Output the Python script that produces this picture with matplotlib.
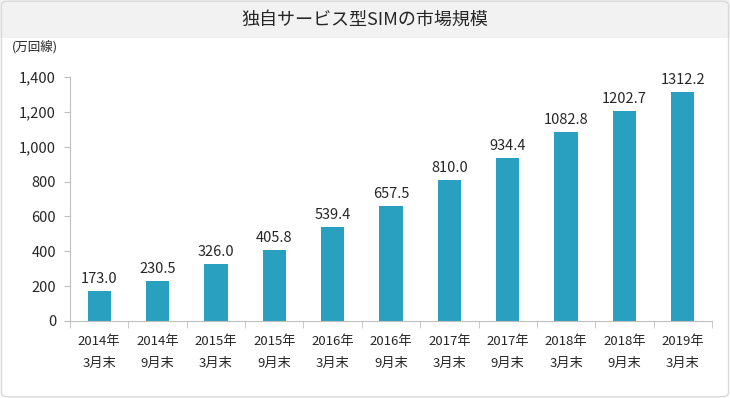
import matplotlib
matplotlib.use('Agg')
import matplotlib.pyplot as plt
import matplotlib.patches as patches
import numpy as np

plt.rcParams['font.family'] = ['Noto Sans CJK JP', 'DejaVu Sans']

title = '独自サービス型SIMの市場規模'
unit_label = '(万回線)'
periods = ['2014年\n3月末', '2014年\n9月末', '2015年\n3月末', '2015年\n9月末',
           '2016年\n3月末', '2016年\n9月末', '2017年\n3月末', '2017年\n9月末',
           '2018年\n3月末', '2018年\n9月末', '2019年\n3月末']
subscribers = [173.0, 230.5, 326.0, 405.8, 539.4, 657.5, 810.0, 934.4,
               1082.8, 1202.7, 1312.2]
yticks = [0, 200, 400, 600, 800, 1000, 1200, 1400]

bar_color = '#2aa0c0'
axis_color = '#bfbfbf'
text_color = '#262626'

fig = plt.figure(figsize=(7.3, 3.98), dpi=100)

# title band and outer frame
band = patches.Rectangle((0, 1 - 38/398), 1, 38/398, transform=fig.transFigure,
                         facecolor='#f2f2f2', edgecolor='none', zorder=0)
fig.patches.append(band)
frame = patches.FancyBboxPatch((0.002, 0.003), 0.996, 0.994,
                               boxstyle='round,pad=0,rounding_size=0.01',
                               transform=fig.transFigure, facecolor='none',
                               edgecolor='#d9d9d9', linewidth=1.0, zorder=1)
fig.patches.append(frame)
fig.text(0.5, 1 - 20/398, title, ha='center', va='center', fontsize=13,
         color=text_color)
fig.text(12/730, 1 - 48/398, unit_label, ha='left', va='center', fontsize=9,
         color=text_color)

ax = fig.add_axes([70/730, 1 - 321/398, (712 - 70)/730, (321 - 77)/398])
x = np.arange(len(periods))
bars = ax.bar(x, subscribers, width=0.4, color=bar_color, zorder=2)
for xi, v in zip(x, subscribers):
    ax.text(xi, v + 30, f'{v:.1f}', ha='center', va='bottom', fontsize=10.5,
            color=text_color)

ax.set_xlim(-0.5, len(periods) - 0.5)
ax.set_ylim(0, 1400)
ax.set_yticks(yticks)
ax.set_yticklabels([f'{t:,}' for t in yticks])
ax.set_xticks(x)
ax.set_xticklabels(periods, fontsize=9.5, color=text_color, linespacing=1.9)
ax.set_xticks(np.arange(len(periods) + 1) - 0.5, minor=True)
ax.tick_params(axis='x', which='major', length=0, pad=10)
ax.tick_params(axis='x', which='minor', length=5, color=axis_color, direction='out')
ax.tick_params(axis='y', length=4, color=axis_color, labelsize=10.5,
               labelcolor=text_color, pad=6)

for side in ['top', 'right']:
    ax.spines[side].set_visible(False)
for side in ['left', 'bottom']:
    ax.spines[side].set_color(axis_color)

fig.savefig('out.png', dpi=100)
